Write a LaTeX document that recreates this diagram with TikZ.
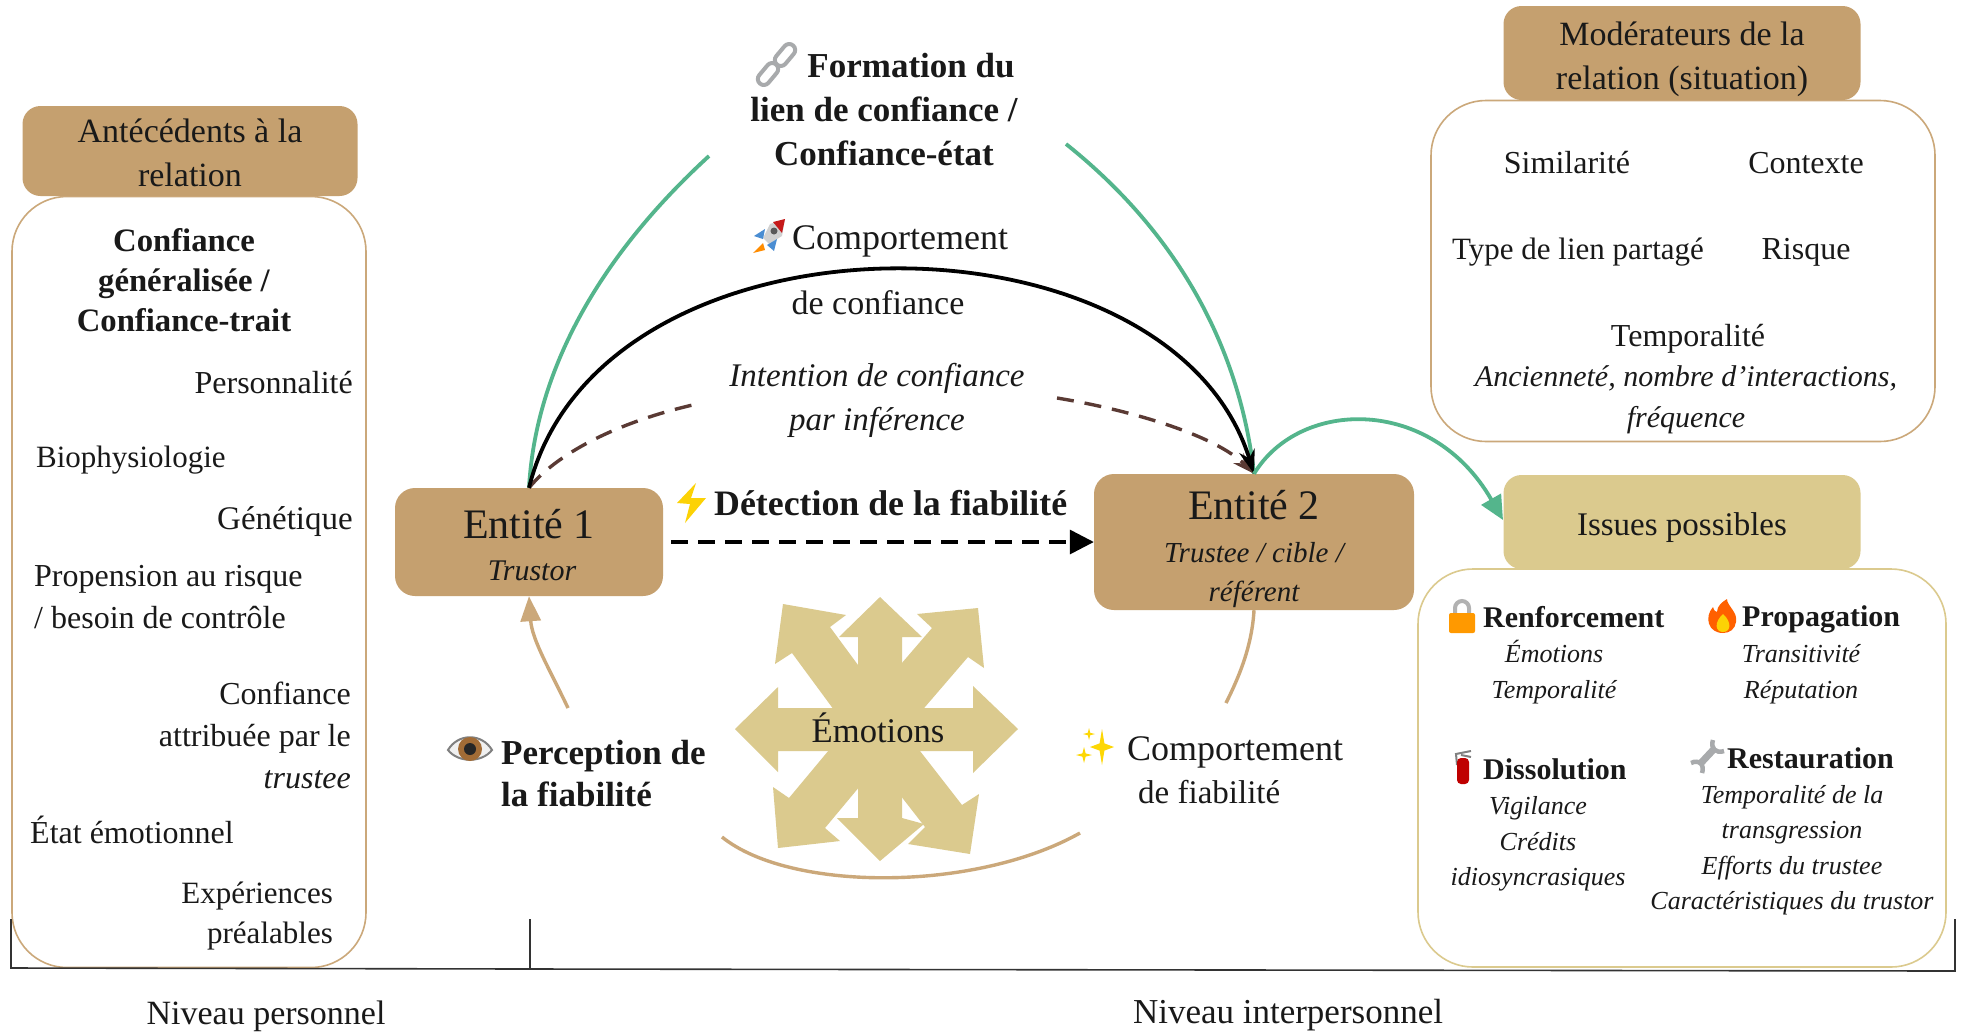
\documentclass[tikz,border=0pt]{standalone}
\usepackage{fontspec}
\setmainfont{Liberation Serif}
\usetikzlibrary{arrows.meta}
\definecolor{tanbox}{HTML}{C5A06F}
\definecolor{tanline}{HTML}{CBA87A}
\definecolor{pale}{HTML}{DBCA8E}
\definecolor{greenl}{HTML}{54B58C}
\definecolor{brownd}{HTML}{5A3A34}
\definecolor{iconsgray}{HTML}{A8AAAC}
\tikzset{
  txt/.style={inner sep=0pt,align=center,text=black!90,font=\fontsize{32}{42}\selectfont},
  txtb/.style={txt,font=\fontsize{35}{44}\selectfont\bfseries},
  txti/.style={txt,font=\fontsize{26}{35.5}\selectfont\itshape},
  headtxt/.style={txt,font=\fontsize{34}{44}\selectfont},
  outhead/.style={txt,font=\fontsize{30}{38}\selectfont\bfseries},
  bigbox/.style={draw=#1,line width=1.6pt,rounded corners=55pt,fill=white,inner sep=0pt},
  headbox/.style={fill=#1,rounded corners=18pt,inner sep=0pt},
  entity/.style={fill=tanbox,rounded corners=20pt,inner sep=0pt},
  greenarc/.style={draw=greenl,line width=3.8pt},
  tanarc/.style={draw=tanline,line width=3.4pt},
  brownarc/.style={draw=brownd,line width=3.4pt,dash pattern=on 17pt off 11pt},
  bracket/.style={draw=black!80,line width=1.6pt},
  linkpart/.style={draw=iconsgray,line width=4pt,rounded corners=6pt,minimum width=25pt,minimum height=12pt,inner sep=0pt,rotate=50},
}
\newcommand{\sparkstar}[4]{\fill[yellow!75!orange] (#1,#2-#4) -- (#1+0.2*#3,#2-0.2*#4) -- (#1+#3,#2) -- (#1+0.2*#3,#2+0.2*#4) -- (#1,#2+#4) -- (#1-0.2*#3,#2+0.2*#4) -- (#1-#3,#2) -- (#1-0.2*#3,#2-0.2*#4) -- cycle;}
\begin{document}
\begin{tikzpicture}[x=1pt,y=-1pt]
\useasboundingbox (0,0) rectangle (1961,1034);
\fill[white] (0,0) rectangle (1961,1034);

% frames
\node[bigbox=tanline,minimum width=354pt,minimum height=771pt] (lbox) at (189,582) {};
\node[bigbox=tanline,minimum width=504pt,minimum height=341pt] (mbox) at (1683,271) {};
\node[bigbox=pale,minimum width=528pt,minimum height=398pt] (ibox) at (1682,768) {};

% level brackets
\coordinate (bl0) at (11,919); \coordinate (bl1) at (11,968);
\coordinate (bt0) at (530,919); \coordinate (bt1) at (530,969);
\coordinate (br0) at (1955,919); \coordinate (br1) at (1955,971);
\draw[bracket] (bl0) -- (bl1) -- (bt1) -- (br1) -- (br0);
\draw[bracket] (bt0) -- (bt1);
\node[txt,font=\fontsize{34}{42}\selectfont] (npers) at (266,1016) {Niveau personnel};
\node[txt,font=\fontsize{35}{42}\selectfont] (ninter) at (1288,1015) {Niveau interpersonnel};

% headers
\node[headbox=tanbox,minimum width=335pt,minimum height=90pt] (hleft) at (190,151) {};
\node[headtxt] (hleftt) at (190,153) {Antécédents à la\\relation};
\node[headbox=tanbox,minimum width=357pt,minimum height=94pt] (hmod) at (1682,53) {};
\node[headtxt] (hmodt) at (1682,59) {Modérateurs de la\\relation (situation)};
\node[headbox=pale,minimum width=357pt,minimum height=94pt] (hiss) at (1682,522) {};
\node[headtxt,font=\fontsize{33}{42}\selectfont] (hisst) at (1682,528) {Issues possibles};

% left box content
\node[txt,font=\fontsize{32.7}{40}\selectfont\bfseries] (conf) at (184,280) {Confiance\\généralisée /\\Confiance-trait};
\node[txt,anchor=east] (t1) at (353,383) {Personnalité};
\node[txt,anchor=west,font=\fontsize{31}{42}\selectfont] (t2) at (36,460) {Biophysiologie};
\node[txt,anchor=east,font=\fontsize{33}{42}\selectfont] (t3) at (353,522) {Génétique};
\node[txt,anchor=west,align=left] (t4) at (34,597) {Propension au risque\\/ besoin de contrôle};
\node[txt,anchor=east,align=right] (t5) at (351,735) {Confiance\\attribuée par le\\\textit{trustee}};
\node[txt,anchor=west] (t6) at (30,830) {État émotionnel};
\node[txt,anchor=east,align=right,font=\fontsize{31}{40}\selectfont] (t7) at (333,916) {Expériences\\préalables};

% modérateurs content
\node[txt] (m1) at (1567,163) {Similarité};
\node[txt] (m2) at (1806,163) {Contexte};
\node[txt,font=\fontsize{31}{42}\selectfont] (m3) at (1578,252) {Type de lien partagé};
\node[txt] (m4) at (1806,252) {Risque};
\node[txt] (m5) at (1688,339) {Temporalité};
\node[txt,font=\fontsize{30}{41}\selectfont\itshape] (m6) at (1686,400) {Ancienneté, nombre d’interactions,\\fréquence};

% emotions star
\fill[pale] (735,729)--(778,687)--(778,708)--(973,708)--(973,686)--(1018,729)--(973,773)--(973,751)--(778,751)--(778,772)--cycle;
\fill[pale] (880,597)--(922,637)--(902,637)--(902,818)--(924,824)--(880,861)--(837,818)--(858,818)--(858,637)--(839,637)--cycle;
\fill[pale] (783,604)--(846,615)--(830,627)--(900,722)--(862,748)--(792,653)--(775,664)--cycle;
\fill[pale] (978,608)--(917,614)--(932,628)--(852,721)--(888,750)--(968,657)--(984,668)--cycle;
\fill[pale] (778,848)--(773,787)--(789,798)--(864,708)--(900,738)--(825,828)--(840,841)--cycle;
\fill[pale] (970,854)--(908,844)--(925,827)--(855,737)--(892,715)--(962,805)--(979,794)--cycle;
\node[txt,font=\fontsize{34.6}{42}\selectfont] (emotions) at (878,728) {Émotions};

% entities
\node[entity,minimum width=268pt,minimum height=108pt] (e1) at (529,542) {};
\node[txt,font=\fontsize{42}{48}\selectfont] (e1a) at (529,524) {Entité 1};
\node[txt,font=\fontsize{30}{36}\selectfont\itshape] (e1b) at (532,571) {Trustor};
\node[entity,minimum width=320pt,minimum height=136pt] (e2) at (1254,542) {};
\node[txt,font=\fontsize{42}{48}\selectfont] (e2a) at (1254,505) {Entité 2};
\node[txt,font=\fontsize{29}{39}\selectfont\itshape] (e2b) at (1254,575) {Trustee / cible /\\référent};

% top labels
\node[txtb] (form) at (884,110) {\hspace*{54pt}Formation du\\lien de confiance /\\Confiance-état};
\node[txt,anchor=west,font=\fontsize{36}{44}\selectfont] (comp) at (792,241) {Comportement};
\node[txt,font=\fontsize{34}{44}\selectfont] (deconf) at (878,303) {de confiance};
\node[txt,font=\fontsize{33}{44}\selectfont\itshape] (intent) at (877,400) {Intention de confiance\\par inférence};
\node[txtb,anchor=west,font=\fontsize{35.8}{44}\selectfont\bfseries] (detect) at (714,503) {Détection de la fiabilité};

% lower labels
\node[txt,anchor=west,align=left,font=\fontsize{35}{42}\selectfont\bfseries] (percep) at (501,774) {Perception de\\la fiabilité};
\node[txt,anchor=west,font=\fontsize{36}{44}\selectfont] (cfiab1) at (1127,752) {Comportement};
\node[txt,anchor=west,font=\fontsize{33}{44}\selectfont] (cfiab2) at (1138,792) {de fiabilité};

% outcomes
\node[outhead,anchor=west] (o1) at (1483,617) {Renforcement};
\node[txti] (o1t) at (1554,672) {Émotions\\Temporalité};
\node[outhead,anchor=west] (o2) at (1742,619) {Propagation};
\node[txti] (o2t) at (1801,674) {Transitivité\\Réputation};
\node[outhead,anchor=west] (o3) at (1483,769) {Dissolution};
\node[txti] (o3t) at (1538,844) {Vigilance\\Crédits\\idiosyncrasiques};
\node[outhead,anchor=west] (o4) at (1727,758) {Restauration};
\node[txti] (o4t) at (1792,850) {Temporalité de la\\transgression\\Efforts du trustee\\Caractéristiques du trustor};

% icons
% link
\node[linkpart] (linkA) at (785,55) {};
\node[linkpart] (linkB) at (768,74) {};
% rocket
\fill[black!18] (785,219) -- (770,224) -- (763,238) -- (769,244) -- (782,236) -- cycle;
\fill[red!75!black!90] (785,219) -- (773,222) -- (782,233) -- cycle;
\fill[cyan!55!blue!75] (765,229) -- (754,236) -- (763,239) -- cycle;
\fill[cyan!55!blue!75] (777,239) -- (774,251) -- (767,245) -- cycle;
\fill[orange!90!yellow] (763,243) -- (753,253) -- (765,250) -- cycle;
\fill[black!65] (774,231) circle (3.5);
% bolt
\fill[yellow!70!orange] (696,483) -- (677,503) -- (690,504) -- (685,523) -- (706,498) -- (691,498) -- cycle;
% eye
\filldraw[fill=black!6,draw=black!50,line width=2pt] (448,750) .. controls (458,733) and (482,733) .. (492,750) .. controls (482,763) and (458,763) .. cycle;
\fill[brown!85!black] (470,749) circle (12);
\fill[black!85] (470,749) circle (6);
% sparkles
\sparkstar{1102}{747}{12}{18}
\sparkstar{1089}{734}{6}{6}
\sparkstar{1084}{755}{8}{8}
% lock
\draw[black!30,line width=4pt] (1455,615) -- (1455,608) arc[start angle=180,end angle=0,radius=7pt] -- (1469,615);
\fill[orange!80!yellow,rounded corners=2pt] (1449,613) rectangle (1475,633);
% fire
\fill[orange!75!red] (1723,633) .. controls (1708,633) and (1704,617) .. (1713,607) .. controls (1714,611) and (1716,612) .. (1717,612) .. controls (1717,606) and (1722,602) .. (1727,599) .. controls (1727,606) and (1738,612) .. (1736,622) .. controls (1735,629) and (1730,633) .. (1723,633) -- cycle;
\fill[yellow!70!orange] (1723,632) .. controls (1715,632) and (1714,622) .. (1723,614) .. controls (1732,622) and (1731,632) .. (1723,632) -- cycle;
% extinguisher
\draw[black!50,line width=2pt] (1457,765) -- (1456,754) -- (1471,751);
\draw[black!50,line width=2pt] (1461,755) -- (1471,757);
\fill[red!75!black,rounded corners=4pt] (1457,758) rectangle (1469,784);
% wrench
\draw[iconsgray,line width=7pt] (1700,764) -- (1714,749);
\draw[iconsgray,line width=4.5pt] (1713,740) .. controls (1710,748) and (1716,754) .. (1724,751);
\draw[iconsgray,line width=4.5pt] (1691,763) .. controls (1699,759) and (1705,765) .. (1702,773);

% free ends
\coordinate (gl) at (709,156);
\coordinate (gr) at (1066,144);
\coordinate (bl) at (697,404);
\coordinate (br) at (1057,398);
\coordinate (pstart) at (568,708);
\coordinate (cend) at (1226,703);
\coordinate (arcL) at (722,837);
\coordinate (arcR) at (1080,833);
\coordinate (htip) at (1503,520);

% connectors
\draw[greenarc] (e1.north) .. controls (535,380) and (590,265) .. (gl);
\draw[greenarc] (gr) .. controls (1180,235) and (1240,350) .. (e2.north);
\draw[brownarc] (e1.north) .. controls (560,450) and (625,420) .. (bl);
\draw[brownarc,-{Stealth[length=22pt,width=14pt]}] (br) .. controls (1130,410) and (1215,435) .. (e2.north);
\draw[black,line width=3.8pt,-{Stealth[length=24pt,width=16pt]}] (e1.north) .. controls (600,200) and (1170,200) .. (e2.north);
\draw[greenarc,-{Triangle[length=24pt,width=22pt]}] (e2.north) .. controls (1300,398) and (1432,396) .. (htip);
\draw[black,line width=3.4pt,dash pattern=on 17pt off 10pt,-{Triangle[length=24pt,width=24pt]}] (e1.east)++(8,0) -- (e2.west);
\draw[tanarc,-{Triangle[length=25pt,width=20pt]}] (pstart) .. controls (550,670) and (532,640) .. (e1.south);
\draw[tanarc] (e2.south) .. controls (1252,645) and (1240,675) .. (cend);
\draw[tanarc] (arcL) .. controls (790,892) and (975,892) .. (arcR);
\end{tikzpicture}
\end{document}
